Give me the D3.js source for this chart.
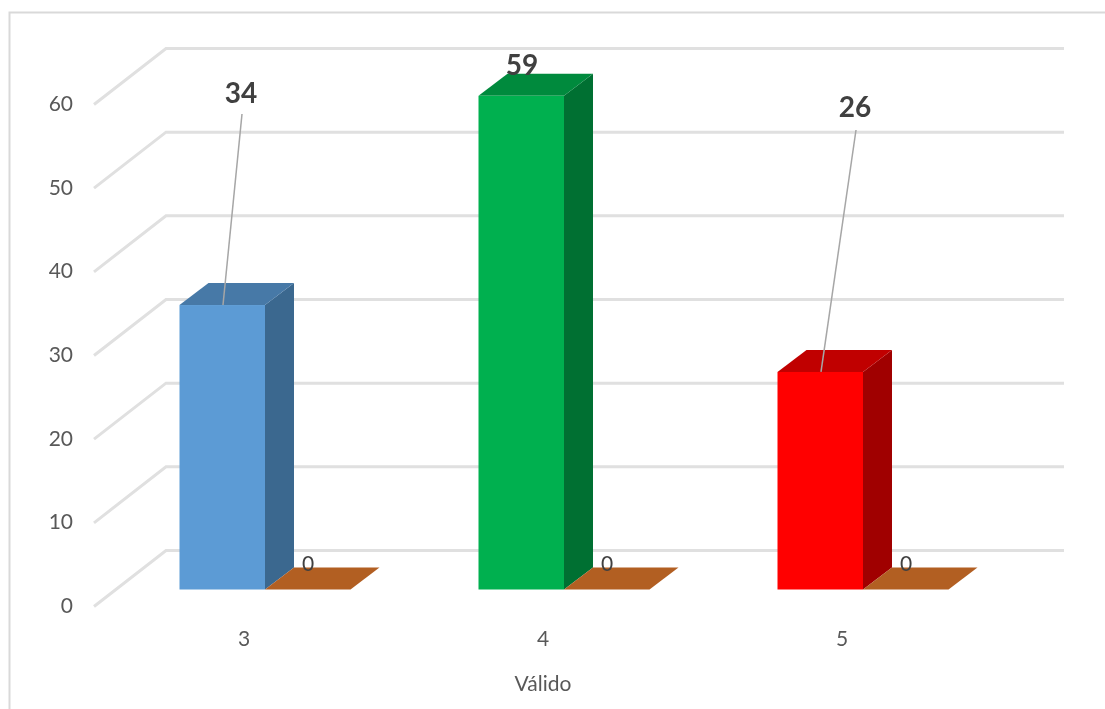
<!DOCTYPE html>
<html>
<head>
<meta charset="utf-8">
<script src="https://cdnjs.cloudflare.com/ajax/libs/d3/7.8.5/d3.min.js"></script>
<style>
html,body{margin:0;padding:0;background:#fff;}
svg{display:block;}
text{font-family:Lato,"Open Sans",sans-serif;}
</style>
</head>
<body>
<svg id="c" width="1105" height="709"></svg>
<script>
const categories = ["3","4","5"];
const seriesA = [34,59,26];
const seriesB = [0,0,0];
const yTicks = [0,10,20,30,40,50,60];
const frontColors = ["#5b9bd5","#00b050","#ff0000"];
const topColors = ["#4679a7","#008a3e","#c00000"];
const sideColors = ["#3a678f","#006f32","#a00000"];
const zeroColor = "#b25e22";
const axisTitle = "Válido";
const labelAnchors = [[241,103],[522,75],[855,117]];
const leaderTops = [[242,114],null,[856,130]];

const svg = d3.select("#c");
const defs = svg.append("defs");
defs.append("filter").attr("id","soft").append("feGaussianBlur").attr("stdDeviation",0.7);
defs.append("filter").attr("id","softer").append("feGaussianBlur").attr("stdDeviation",0.45);
defs.append("filter").attr("id","texts").append("feGaussianBlur").attr("stdDeviation",0.25);

const barBase = 589.5, depthX = 29, depthY = 22;
const wallBase = 550.5;
const y = d3.scaleLinear().domain([0,60]).range([0, 502]);
const x = d3.scaleBand().domain(categories).range([115.5,1012.5]);
const sub = d3.scaleBand().domain(["a","b"]).range([-85.5,85.5]);
const center = c => x(c)+x.bandwidth()/2;

// frame
svg.append("path").attr("d","M1105,12.5H9.5V709").attr("fill","none").attr("stroke","#d9d9d9").attr("stroke-width",2);

// gridlines
const grid = svg.append("g").attr("filter","url(#soft)").attr("fill","none").attr("stroke","#e0e0e0").attr("stroke-width",3);
grid.selectAll("path").data(yTicks).join("path")
  .attr("d",t=>`M94,${wallBase-y(t)+56}L166,${wallBase-y(t)}H1064`);

// y labels
const textLayer = svg.append("g").attr("filter","url(#texts)");
textLayer.append("g").selectAll("text").data(yTicks).join("text")
  .attr("x",73).attr("y",t=>wallBase-y(t)+55).attr("dy","0.35em")
  .attr("text-anchor","end").attr("font-size",21).attr("fill","#595959").text(d=>d);

// bars
const bars = svg.append("g").attr("filter","url(#softer)");
categories.forEach((c,i)=>{
  const x0 = center(c)+sub("a"), x1 = x0+sub.bandwidth();
  const barTop = barBase-y(seriesA[i]);
  const g = bars.append("g");
  g.append("path").attr("fill",sideColors[i])
    .attr("d",`M${x1},${barTop}l${depthX},${-depthY}V${barBase-depthY}l${-depthX},${depthY}Z`);
  g.append("path").attr("fill",topColors[i])
    .attr("d",`M${x0},${barTop}l${depthX},${-depthY}H${x1+depthX}l${-depthX},${depthY}Z`);
  g.append("rect").attr("x",x0).attr("y",barTop).attr("width",x1-x0).attr("height",y(seriesA[i])).attr("fill",frontColors[i]);
  const bx0 = center(c)+sub("b"), bx1 = bx0+sub.bandwidth();
  const bt = barBase-y(seriesB[i]);
  g.append("path").attr("fill",zeroColor)
    .attr("d",`M${bx0},${bt}l${depthX},${-depthY}H${bx1+depthX}l${-depthX},${depthY}Z`);
});

// leader lines
const leaders = svg.append("g").attr("stroke","#a6a6a6").attr("stroke-width",1.5).attr("fill","none");
categories.forEach((c,i)=>{
  if(!leaderTops[i]) return;
  leaders.append("line").attr("x1",leaderTops[i][0]).attr("y1",leaderTops[i][1])
    .attr("x2",center(c)-42).attr("y2",barBase-y(seriesA[i]));
});

// value labels
const labelLayer = svg.append("g").attr("filter","url(#texts)");
labelLayer.append("g").selectAll("text").data(seriesA).join("text")
  .attr("x",(d,i)=>labelAnchors[i][0]).attr("y",(d,i)=>labelAnchors[i][1])
  .attr("text-anchor","middle").attr("font-size",28).attr("font-weight",700).attr("fill","#404040").text(d=>d);
labelLayer.append("g").selectAll("text").data(seriesB).join("text")
  .attr("x",(d,i)=>center(categories[i])+43).attr("y",571)
  .attr("text-anchor","middle").attr("font-size",21).attr("fill","#404040").text(d=>d);

// category labels
labelLayer.append("g").selectAll("text").data(categories).join("text")
  .attr("x",c=>center(c)-21).attr("y",646)
  .attr("text-anchor","middle").attr("font-size",21).attr("fill","#595959").text(d=>d);
labelLayer.append("text").attr("x",543).attr("y",691).attr("text-anchor","middle")
  .attr("font-size",21).attr("fill","#595959").text(axisTitle);
</script>
</body>
</html>
